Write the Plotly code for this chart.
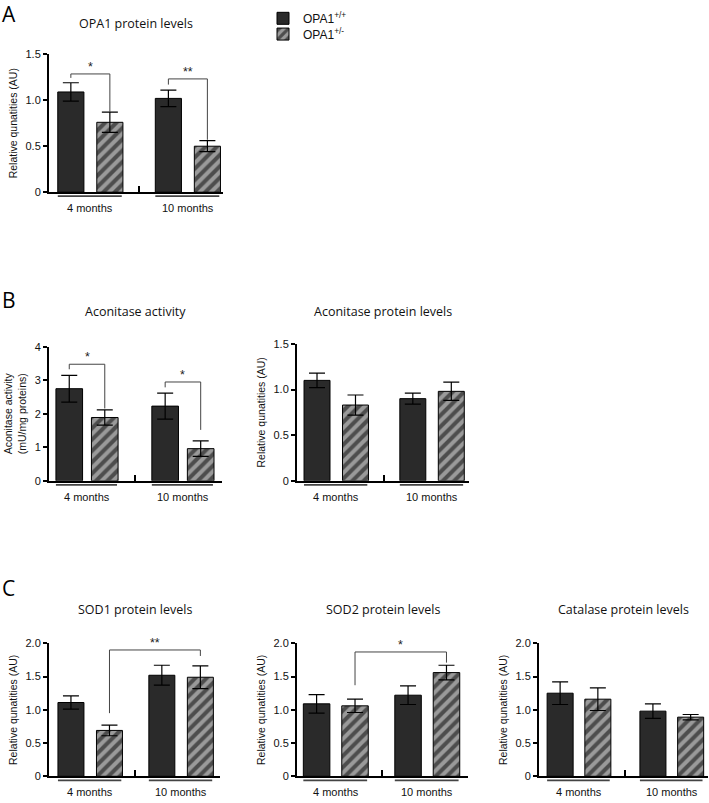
import plotly.graph_objects as go

W, H = 709, 803

# ---------------- data ----------------
groups = ["4 months", "10 months"]
series_names = ["OPA1<sup>+/+</sup>", "OPA1<sup>+/-</sup>"]

opa1_wt = [1.09, 1.02]
opa1_wt_err = [0.10, 0.09]
opa1_het = [0.76, 0.50]
opa1_het_err = [0.11, 0.06]

acon_act_wt = [2.75, 2.23]
acon_act_wt_err = [0.40, 0.39]
acon_act_het = [1.89, 0.96]
acon_act_het_err = [0.23, 0.23]

acon_prot_wt = [1.10, 0.90]
acon_prot_wt_err = [0.08, 0.06]
acon_prot_het = [0.83, 0.98]
acon_prot_het_err = [0.11, 0.10]

sod1_wt = [1.11, 1.52]
sod1_wt_err = [0.10, 0.15]
sod1_het = [0.69, 1.49]
sod1_het_err = [0.08, 0.17]

sod2_wt = [1.09, 1.22]
sod2_wt_err = [0.14, 0.14]
sod2_het = [1.06, 1.56]
sod2_het_err = [0.10, 0.11]

cat_wt = [1.25, 0.98]
cat_wt_err = [0.17, 0.11]
cat_het = [1.16, 0.89]
cat_het_err = [0.17, 0.04]

ticks_15 = [0, 0.5, 1.0, 1.5]
ticks_15_text = ["0", "0.5", "1.0", "1.5"]
ticks_4 = [0, 1, 2, 3, 4]
ticks_4_text = ["0", "1", "2", "3", "4"]
ticks_20 = [0, 0.5, 1.0, 1.5, 2.0]
ticks_20_text = ["0", "0.5", "1.0", "1.5", "2.0"]

ylab_rel = "Relative qunatities (AU)"
ylab_acon = "Aconitase activity<br>(mU/mg proteins)"

# ---------------- layout config (styles / positions) ----------------
def px_x(p):
    return p / W

def px_y(p):
    return 1 - p / H

panels = [
    dict(title="OPA1 protein levels", wt=opa1_wt, wte=opa1_wt_err, het=opa1_het, hete=opa1_het_err,
         ymax=1.5, tv=ticks_15, tt=ticks_15_text, ylab=ylab_rel,
         xd=(49, 223), yd=(49, 189), gap=2.5, xr=(-0.56, 3.9), bw=0.67, mid=1.74, ty=18,
         sig=[(0, 1, "*", 1.286, 1.243, 0.87), (2, 3, "**", 1.232, 1.17, 0.57)]),
    dict(title="Aconitase activity", wt=acon_act_wt, wte=acon_act_wt_err, het=acon_act_het, hete=acon_act_het_err,
         ymax=4, tv=ticks_4, tt=ticks_4_text, ylab=ylab_acon,
         xd=(49, 222), yd=(346, 482), gap=2.7, xr=(-0.57, 4.3), bw=0.75, mid=1.85, ty=310,
         sig=[(0, 1, "*", 3.48, 3.33, 2.16), (2, 3, "*", 2.95, 2.79, 1.52)]),
    dict(title="Aconitase protein levels", wt=acon_prot_wt, wte=acon_prot_wt_err, het=acon_prot_het, hete=acon_prot_het_err,
         ymax=1.5, tv=ticks_15, tt=ticks_15_text, ylab=ylab_rel,
         xd=(297, 469), yd=(343, 482), gap=2.49, xr=(-0.52, 3.95), bw=0.675, mid=1.74, ty=310,
         sig=[]),
    dict(title="SOD1 protein levels", wt=sod1_wt, wte=sod1_wt_err, het=sod1_het, hete=sod1_het_err,
         ymax=2.0, tv=ticks_20, tt=ticks_20_text, ylab=ylab_rel,
         xd=(49, 220), yd=(647, 782), gap=2.36, xr=(-0.57, 3.87), bw=0.675, mid=1.66, ty=613,
         sig=[(1, 3, "**", 1.90, 0.95, 1.81)]),
    dict(title="SOD2 protein levels", wt=sod2_wt, wte=sod2_wt_err, het=sod2_het, hete=sod2_het_err,
         ymax=2.0, tv=ticks_20, tt=ticks_20_text, ylab=ylab_rel,
         xd=(297, 468), yd=(647, 782), gap=2.38, xr=(-0.51, 3.94), bw=0.69, mid=1.71, ty=613,
         sig=[(1, 3, "*", 1.87, 1.37, 1.71)]),
    dict(title="Catalase protein levels", wt=cat_wt, wte=cat_wt_err, het=cat_het, hete=cat_het_err,
         ymax=2.0, tv=ticks_20, tt=ticks_20_text, ylab=ylab_rel,
         xd=(539, 708), yd=(647, 782), gap=2.46, xr=(-0.56, 3.92), bw=0.69, mid=1.72, ty=613,
         sig=[]),
]

letters = [("A", 8), ("B", 298), ("C", 591)]

DARK = "#2a2a2a"
HATCH_BG = "#9a9a9a"
TITLE_FONT = dict(family="Open Sans", size=12.5, color="#111")
TICK_FONT = dict(family="Liberation Sans", size=11, color="#111")

fig = go.Figure()
shapes = []
annotations = []
layout = {}

for k, p in enumerate(panels):
    n = "" if k == 0 else str(k + 1)
    xa, ya = "x" + n, "y" + n
    g = p["gap"]
    xs_wt = [0, g]
    xs_het = [1, g + 1]
    fig.add_trace(go.Bar(
        x=xs_wt, y=p["wt"], width=p["bw"], xaxis=xa, yaxis=ya,
        name=series_names[0], showlegend=(k == 0), legend="legend",
        marker=dict(color=DARK, line=dict(color="black", width=1)),
        error_y=dict(type="data", array=p["wte"], color="black", thickness=1.2, width=8),
    ))
    fig.add_trace(go.Bar(
        x=xs_het, y=p["het"], width=p["bw"], xaxis=xa, yaxis=ya,
        name=series_names[1], showlegend=(k == 0), legend="legend2",
        marker=dict(color=HATCH_BG, line=dict(color="black", width=1),
                    pattern=dict(shape="/", bgcolor=HATCH_BG, fgcolor="black", size=8, solidity=0.5)),
        error_y=dict(type="data", array=p["hete"], color="black", thickness=1.2, width=8),
    ))

    x0, x1 = p["xd"]
    ytop, ybot = p["yd"]
    layout["xaxis" + n] = dict(
        domain=[px_x(x0), px_x(x1)], range=list(p["xr"]), anchor=ya,
        showline=True, linecolor="black", linewidth=2, showgrid=False, zeroline=False,
        tickvals=[p["mid"]], ticks="inside", ticklen=6, tickwidth=2, tickcolor="black",
        showticklabels=False, fixedrange=True,
    )
    layout["yaxis" + n] = dict(
        domain=[px_y(ybot), px_y(ytop)], range=[0, p["ymax"]], anchor=xa,
        showline=True, linecolor="black", linewidth=2, showgrid=False, zeroline=False,
        tickvals=p["tv"], ticktext=p["tt"], ticks="outside", ticklen=4, tickwidth=1.5,
        tickcolor="black", tickfont=TICK_FONT,
        title=dict(text=p["ylab"], font=dict(family="Liberation Sans", size=10.5, color="#111"), standoff=6),
        fixedrange=True,
    )

    span = p["xr"][1] - p["xr"][0]
    for gi, gx in enumerate([0, g]):
        a = gx - p["bw"] / 2
        b = gx + 1 + p["bw"] / 2 - 0.03
        shapes.append(dict(
            type="line", xref=xa + " domain", yref=ya + " domain",
            x0=(a - p["xr"][0]) / span, x1=(b - p["xr"][0]) / span,
            ysizemode="pixel", yanchor=0, y0=-4, y1=-4,
            line=dict(color="#444", width=1.8),
        ))
        annotations.append(dict(
            text=groups[gi], xref=xa, yref=ya + " domain", x=gx + 0.5, y=0,
            yanchor="top", yshift=-8, showarrow=False, font=TICK_FONT,
        ))

    annotations.append(dict(
        text=p["title"], xref=xa + " domain", yref="paper", x=0.5, y=px_y(p["ty"]),
        xanchor="center", yanchor="middle", showarrow=False, font=TITLE_FONT,
    ))

    xpos = [0, 1, g, g + 1]
    for (i, j, lab, yh, yl, yr) in p["sig"]:
        xi, xj = xpos[i], xpos[j]
        shapes.append(dict(
            type="path", xref=xa, yref=ya,
            path=f"M {xi},{yl} L {xi},{yh} L {xj},{yh} L {xj},{yr}",
            line=dict(color="#444", width=1),
        ))
        annotations.append(dict(
            text=lab, xref=xa, yref=ya, x=(xi + xj) / 2, y=yh,
            yanchor="bottom", yshift=-2, showarrow=False,
            font=dict(family="Liberation Sans", size=12.5, color="#222"),
        ))

for lt, ly in letters:
    annotations.append(dict(
        text=lt, xref="paper", yref="paper", x=px_x(0), y=px_y(ly),
        xanchor="left", yanchor="middle", showarrow=False,
        font=dict(family="Open Sans", size=21, color="black"),
    ))

LEG_FONT = dict(family="Liberation Sans", size=12, color="#111")
fig.update_layout(
    width=W, height=H,
    margin=dict(l=0, r=0, t=0, b=0),
    paper_bgcolor="white", plot_bgcolor="white",
    barmode="overlay",
    showlegend=True,
    legend=dict(x=px_x(263), y=px_y(12.5), xanchor="left", yanchor="middle",
                font=LEG_FONT, bgcolor="rgba(0,0,0,0)", itemwidth=30),
    legend2=dict(x=px_x(263), y=px_y(28.5), xanchor="left", yanchor="middle",
                 font=LEG_FONT, bgcolor="rgba(0,0,0,0)", itemwidth=30),
    shapes=shapes,
    annotations=annotations,
    **layout,
)

# pin the figure to the top-left corner of the page (no default body margin)
post = (
    "var gd=document.getElementById('{plot_id}');"
    "document.documentElement.style.cssText='margin:0;padding:0;height:803px;overflow:hidden';"
    "document.body.style.cssText='margin:0;padding:0;height:803px;overflow:hidden';"
    "gd.style.position='fixed';gd.style.top='0px';gd.style.left='0px';"
)
fig.write_html("out.html", config={"displayModeBar": False}, post_script=post)
